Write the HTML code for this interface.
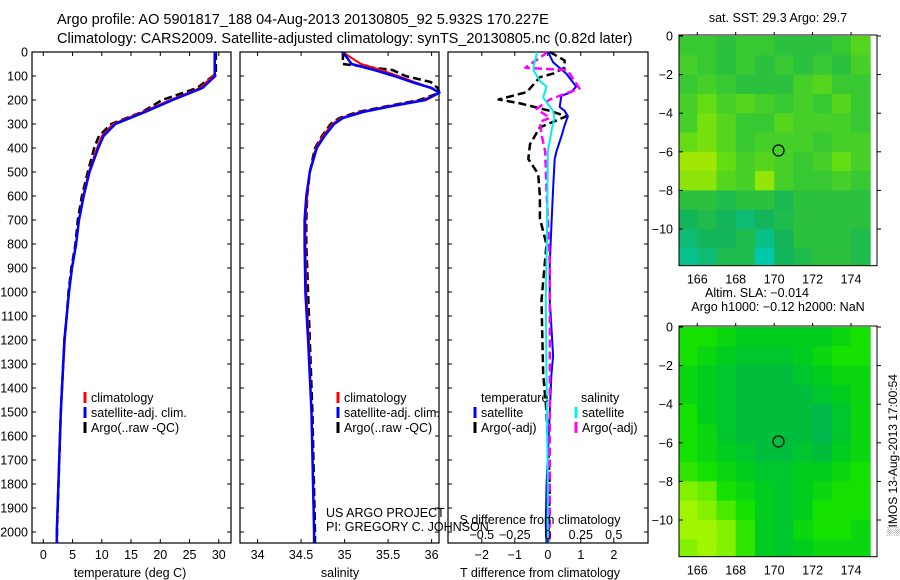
<!DOCTYPE html>
<html><head><meta charset="utf-8">
<style>
html,body{margin:0;padding:0;background:#fff;}
svg{display:block;font-family:"Liberation Sans",Arial,sans-serif;}
text{fill:#000;}
</style></head>
<body>
<svg id="c" width="900" height="580" viewBox="0 0 900 580" xmlns="http://www.w3.org/2000/svg">
<text x="57" y="24" font-size="14.5">Argo profile: AO 5901817_188 04-Aug-2013 20130805_92 5.932S 170.227E</text>
<text x="57" y="43" font-size="14.5">Climatology: CARS2009. Satellite-adjusted climatology: synTS_20130805.nc (0.82d later)</text>
<g id="plots"></g>
</svg>
<script>
// ---------- data ----------
const depthT = [0,90,100,150,200,250,300,350,400,500,600,700,800,900,1000,1100,1200,1500,2000,2045];
const tempClim = [29.3,29.3,29.0,26.8,21.7,17.0,11.9,10.0,9.2,7.8,6.8,6.1,5.6,4.9,4.4,4.0,3.7,3.0,2.3,2.3];
const tempSat  = [29.3,29.3,29.4,27.2,22.1,17.4,12.3,10.3,9.4,7.9,6.9,6.1,5.6,4.9,4.4,4.0,3.6,3.0,2.3,2.3];
const tempArgo = [29.5,29.5,29.0,26.3,20.3,16.9,11.6,9.5,8.7,7.6,6.6,5.9,5.5,4.8,4.3,4.0,3.6,3.0,2.35,2.35];
const depthS = [0,20,50,75,100,125,150,170,200,225,250,275,300,350,400,500,600,700,800,1000,1200,1500,2000,2045];
const salClim = [34.98,35.06,35.19,35.42,35.61,35.80,35.99,36.09,35.90,35.52,35.18,34.96,34.86,34.75,34.67,34.60,34.57,34.55,34.55,34.56,34.59,34.62,34.65,34.65];
const salSat  = [34.97,35.02,35.08,35.34,35.57,35.77,36.00,36.09,35.93,35.55,35.21,34.98,34.88,34.77,34.68,34.60,34.56,34.54,34.54,34.55,34.58,34.62,34.65,34.65];
const salArgo = [34.98,34.98,34.98,35.55,35.70,35.99,36.07,36.09,35.86,35.50,35.15,34.94,34.84,34.74,34.66,34.60,34.57,34.56,34.56,34.58,34.60,34.63,34.66,34.66];
const dTsatDepth = [0,43,90,144,167,183,229,245,268,306,353,415,446,570,724,879,1034,1266,1344,1498,1653,1808,1963,2045];
const dTsat = [0.01,0.16,0.56,0.86,0.71,0.41,0.36,0.51,0.61,0.51,0.41,0.26,0.21,0.16,0.11,0.06,0.06,0.16,0.11,0.06,0.01,-0.04,-0.06,-0.04];
const dTargoDepth = [0,35,65,90,105,167,198,214,245,268,314,384,446,508,600,693,802,1034,1344,1498,1808,2045];
const dTargo = [0.06,0.51,0.51,0.16,-0.24,-0.64,-1.49,-0.84,0.06,0.56,-0.24,-0.54,-0.59,-0.29,-0.24,-0.24,-0.04,-0.19,-0.14,-0.04,0.06,0.01];
const dSsatDepth = [0,12,43,74,121,144,190,245,275,322,415,724,1034,1344,1808,2045];
const dSsat = [-0.09,-0.085,-0.1,-0.11,-0.06,-0.01,-0.035,0.04,0.05,0.03,0.0,-0.005,-0.015,-0.01,0.0,0.0];
const dSargoDepth = [0,66,75,90,152,198,237,275,291,337,415,570,879,1498,2045];
const dSargo = [0,-0.17,0.14,0.165,0.24,0.015,-0.085,0.015,-0.06,-0.05,-0.02,-0.01,0.015,0.015,0.015];
const depthTicks = [0,100,200,300,400,500,600,700,800,900,1000,1100,1200,1300,1400,1500,1600,1700,1800,1900,2000];
const tempTicks = [0,5,10,15,20,25,30];
const salTicks = [34,34.5,35,35.5,36];
const salTickLabels = ["34","34.5","35","35.5","36"];
const dTTicks = [-2,-1,0,1,2];
const dSTicks = [-0.5,-0.25,0,0.25,0.5];
const dSTickLabels = ["\u22120.5","\u22120.25","0","0.25","0.5"];
const lonTicks = [166,168,170,172,174];
const latTicks = [0,-2,-4,-6,-8,-10];
const argoLon = 170.227, argoLat = -5.932;
// map grids: rows lat 0..-12 (1 deg), cols lon 165..175 (1 deg)
const sstGrid = [
[.45,.45,.4,.45,.45,.4,.4,.4,.45,.55],
[.5,.45,.4,.45,.4,.45,.4,.45,.4,.5],
[.45,.5,.45,.4,.4,.4,.5,.55,.45,.45],
[.5,.6,.5,.55,.5,.45,.5,.45,.55,.45],
[.5,.65,.55,.45,.45,.55,.5,.5,.5,.45],
[.6,.65,.55,.45,.5,.5,.5,.45,.5,.5],
[.75,.75,.6,.5,.55,.5,.45,.5,.6,.5],
[.7,.7,.55,.5,.72,.5,.45,.45,.5,.45],
[.4,.4,.35,.4,.4,.33,.4,.4,.4,.4],
[.3,.35,.3,.25,.3,.35,.4,.4,.4,.4],
[.25,.3,.3,.35,.22,.3,.4,.4,.4,.35],
[.2,.25,.35,.35,.12,.3,.35,.4,.4,.35]];
const slaGrid = [
[.5,.5,.45,.4,.4,.4,.4,.4,.45,.5],
[.5,.45,.4,.35,.35,.35,.4,.45,.5,.5],
[.45,.4,.35,.3,.3,.3,.35,.4,.45,.45],
[.45,.4,.35,.3,.3,.3,.3,.35,.4,.45],
[.5,.4,.35,.3,.3,.3,.3,.25,.35,.45],
[.5,.45,.35,.3,.3,.3,.3,.25,.35,.45],
[.5,.45,.4,.35,.3,.3,.35,.3,.4,.45],
[.55,.5,.45,.4,.35,.35,.4,.4,.45,.5],
[.7,.65,.5,.45,.4,.35,.4,.45,.5,.5],
[.75,.7,.6,.5,.4,.35,.4,.5,.5,.5],
[.75,.75,.7,.55,.4,.35,.45,.5,.5,.45],
[.7,.75,.7,.55,.4,.35,.4,.45,.45,.45]];

// ---------- helpers ----------
const NS="http://www.w3.org/2000/svg";
const root=document.getElementById('plots');
function mk(tag,attrs,parent){const e=document.createElementNS(NS,tag);for(const k in attrs)e.setAttribute(k,attrs[k]);(parent||root).appendChild(e);return e;}
function txt(x,y,s,size,anchor,parent){const t=mk('text',{x:x,y:y,'font-size':size||12.5,'text-anchor':anchor||'start'},parent);t.textContent=s;return t;}

const Y0=52, PY=0.24, PBOT=543;
const yD=d=>Y0+PY*d;
const panels=[{x0:32,x1:231},{x0:240,x1:439},{x0:448,x1:648}];
const xT=t=>43.3+5.85*t;
const xS=s=>257.6+87*(s-34);
const xDT=t=>547.8+33*t;
const xDS=s=>547.8+132*s;

function frame(p,name){
  const r=mk('rect',{x:p.x0,y:Y0,width:p.x1-p.x0,height:PBOT-Y0,fill:'none',stroke:'#000','stroke-width':1.2});
  
  
  depthTicks.forEach(d=>{
    mk('line',{x1:p.x0,x2:p.x0+4,y1:yD(d),y2:yD(d),stroke:'#000'});
    mk('line',{x1:p.x1,x2:p.x1-4,y1:yD(d),y2:yD(d),stroke:'#000'});
  });
}
function line(xs,ds,xf,color,w,dash,name){
  const pts=xs.map((v,i)=>xf(v).toFixed(1)+','+yD(ds[i]).toFixed(1)).join(' ');
  const a={points:pts,fill:'none',stroke:color,'stroke-width':w,'stroke-linejoin':'round'};
  if(dash)a['stroke-dasharray']=dash;
  const e=mk('polyline',a);
  
  
}
function xticks(p,ticks,labels,xf,ty,name){
  const g=mk('g',{});
  
  
  ticks.forEach((t,i)=>{
    const x=xf(t);
    mk('line',{x1:x,x2:x,y1:PBOT,y2:PBOT-4,stroke:'#000'},g);
    mk('line',{x1:x,x2:x,y1:Y0,y2:Y0+4,stroke:'#000'},g);
    txt(x,ty,labels[i],12.5,'middle',g);
  });
}
function legendItem(x,y,color,label,name){
  const g=mk('g',{});
  
  
  mk('line',{x1:x,x2:x,y1:y-10,y2:y+1,stroke:color,'stroke-width':3},g);
  txt(x+6,y,label,12.5,'start',g);
}

// Panel 1 temperature
frame(panels[0],'temperature-panel');
const yl=mk('g',{});


depthTicks.forEach(d=>txt(28,yD(d)+4.5,String(d),12.5,'end',yl));
line(tempArgo,depthT,xT,'#000',2.5,'8,4','temp-argo-line');
line(tempClim,depthT,xT,'#f00',2,null,'temp-climatology-line');
line(tempSat,depthT,xT,'#00f',2.5,null,'temp-satellite-line');
xticks(panels[0],tempTicks,tempTicks.map(String),xT,559,'temperature-x-ticks');
txt(130,577,'temperature (deg C)',12.5,'middle');
legendItem(85,402,'#f00','climatology','legend-climatology');
legendItem(85,417,'#00f','satellite-adj. clim.','legend-satellite-adj');
legendItem(85,432,'#000','Argo(..raw -QC)','legend-argo');

// Panel 2 salinity
frame(panels[1],'salinity-panel');
line(salArgo,depthS,xS,'#000',2.5,'8,4','sal-argo-line');
line(salClim,depthS,xS,'#f00',2,null,'sal-climatology-line');
line(salSat,depthS,xS,'#00f',2.5,null,'sal-satellite-line');
xticks(panels[1],salTicks,salTickLabels,xS,559,'salinity-x-ticks');
txt(340,577,'salinity',12.5,'middle');
legendItem(338,402,'#f00','climatology','legend-climatology-2');
legendItem(338,417,'#00f','satellite-adj. clim.','legend-satellite-adj-2');
legendItem(338,432,'#000','Argo(..raw -QC)','legend-argo-2');
txt(326,517,'US ARGO PROJECT',12.5,'start');
txt(326,531,'PI: GREGORY C. JOHNSON',12.5,'start');

// Panel 3 differences
frame(panels[2],'difference-panel');
line(dTargo,dTargoDepth,xDT,'#000',2.5,'8,4','dT-argo-line');
line(dTsat,dTsatDepth,xDT,'#00f',2,null,'dT-satellite-line');
line(dSargo,dSargoDepth,xDS,'#f0f',2.5,'8,4','dS-argo-line');
line(dSsat,dSsatDepth,xDS,'#0ee',2,null,'dS-satellite-line');
xticks(panels[2],dTTicks,dTTicks.map(v=>v<0?'\u2212'+(-v):String(v)),xDT,559,'dT-x-ticks');
const sg=mk('g',{});


dSTicks.forEach((s,i)=>txt(xDS(s),539,dSTickLabels[i],12.5,'middle',sg));
txt(540,524,'S difference from climatology',12.5,'middle');
txt(540,577,'T difference from climatology',12.5,'middle');
txt(481,402,'temperature',12.5,'start');
txt(581,402,'salinity',12.5,'start');
legendItem(475,417,'#00f','satellite','legend-dT-satellite');
legendItem(475,432,'#000','Argo(-adj)','legend-dT-argo');
legendItem(576,417,'#0ee','satellite','legend-dS-satellite');
legendItem(576,432,'#f0f','Argo(-adj)','legend-dS-argo');

// ---------- maps ----------
const MX0=679, MX1=877, LON0=165.05, LON1=175.35;
const mxL=l=>MX0+(l-LON0)*(MX1-MX0)/(LON1-LON0);
function lerpC(stops,v){
  if(v<=stops[0][0])return stops[0][1];
  for(let i=1;i<stops.length;i++){if(v<=stops[i][0]){const a=stops[i-1],b=stops[i],t=(v-a[0])/(b[0]-a[0]);return a[1].map((c,k)=>Math.round(c+(b[1][k]-c)*t));}}
  return stops[stops.length-1][1];
}
const sstStops=[[0,[0,200,180]],[0.15,[0,200,170]],[0.3,[20,180,90]],[0.45,[55,200,50]],[0.6,[100,220,20]],[0.8,[180,235,0]],[1,[220,240,0]]];
const slaStops=[[0.2,[0,180,90]],[0.3,[0,190,60]],[0.4,[0,205,30]],[0.5,[20,225,0]],[0.75,[160,245,0]],[1,[200,250,0]]];
function drawMap(grid,stops,y0,name,title1,title2){
  const myL=la=>y0+1-la*19.3;
  const g=mk('g',{});
  
  
  const top=y0, bot=myL(-11.9);
  const clip=mk('clipPath',{id:'clip'+name},g);
  mk('rect',{x:MX0,y:top,width:MX1-MX0,height:bot-top},clip);
  const cg=mk('g',{'clip-path':'url(#clip'+name+')'},g);
  grid.forEach((row,r)=>row.forEach((v,c)=>{
    const x=mxL(165+c), y=myL(-r);
    const cell=mk('rect',{x:x.toFixed(1),y:y.toFixed(1),width:(mxL(166+c)-x+0.5).toFixed(1),height:(myL(-r-1)-y+0.5).toFixed(1),fill:'rgb('+lerpC(stops,v).join(',')+')'},cg);
    
    
  }));
  mk('rect',{x:MX0,y:top,width:MX1-MX0,height:bot-top,fill:'none',stroke:'#000'},g);
  const m=mk('circle',{cx:mxL(argoLon),cy:myL(argoLat),r:5.5,fill:'none',stroke:'#000','stroke-width':1.2},g);
  
  
  latTicks.forEach(la=>{
    const y=myL(la);
    mk('line',{x1:MX0,x2:MX0+4,y1:y,y2:y,stroke:'#000'},g);
    mk('line',{x1:MX1,x2:MX1+4,y1:y,y2:y,stroke:'#000'},g);
    txt(673,y+4.5,la<0?'\u2212'+(-la):String(la),12.5,'end',g);
  });
  lonTicks.forEach(lo=>{
    const x=mxL(lo);
    mk('line',{x1:x,x2:x,y1:top,y2:top-3,stroke:'#000'},g);
    txt(x,bot+18,String(lo),12.5,'middle',g);
  });
  if(title2){txt(757,top-29,title1,12.5,'middle',g);txt(778,top-15,title2,12.5,'middle',g);}
  else txt(778,top-13,title1,12.5,'middle',g);
}
drawMap(sstGrid,sstStops,35,'sst-map','sat. SST: 29.3 Argo: 29.7');
drawMap(slaGrid,slaStops,326,'sla-map','Altim. SLA: \u22120.014','Argo h1000: \u22120.12 h2000: NaN');
const im=txt(0,0,'\u2591IMOS 13-Aug-2013 17:00:54',12,'middle');
im.setAttribute('transform','translate(897,455) rotate(-90)');


</script>
</body></html>
